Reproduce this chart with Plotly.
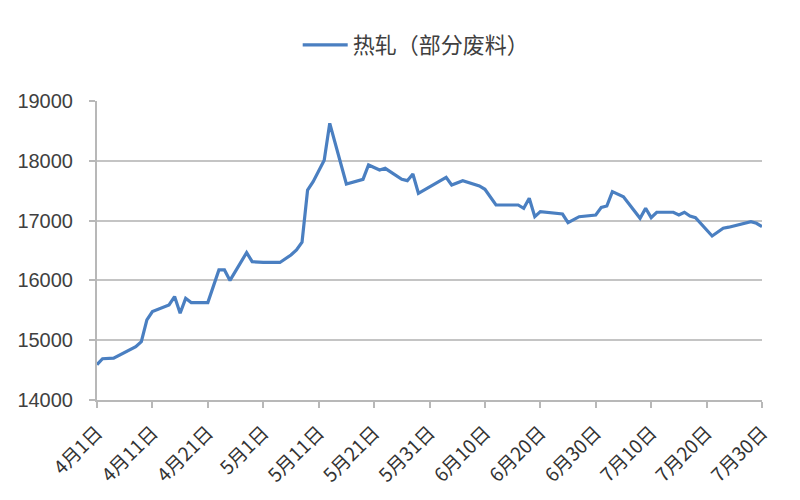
import plotly.graph_objects as go

dates = [
    "2014-04-01", "2014-04-02", "2014-04-04", "2014-04-06", "2014-04-08", "2014-04-09",
    "2014-04-10", "2014-04-11", "2014-04-14", "2014-04-15", "2014-04-16", "2014-04-17",
    "2014-04-18", "2014-04-21", "2014-04-23", "2014-04-24", "2014-04-25", "2014-04-28",
    "2014-04-29", "2014-05-01", "2014-05-04", "2014-05-06", "2014-05-07", "2014-05-08",
    "2014-05-09", "2014-05-10", "2014-05-12", "2014-05-13", "2014-05-15", "2014-05-16",
    "2014-05-19", "2014-05-20", "2014-05-22", "2014-05-23", "2014-05-26", "2014-05-27",
    "2014-05-28", "2014-05-29", "2014-06-03", "2014-06-04", "2014-06-06", "2014-06-09",
    "2014-06-10", "2014-06-12", "2014-06-16", "2014-06-17", "2014-06-18", "2014-06-19",
    "2014-06-20", "2014-06-24", "2014-06-25", "2014-06-27", "2014-06-30", "2014-07-01",
    "2014-07-02", "2014-07-03", "2014-07-05", "2014-07-08", "2014-07-09", "2014-07-10",
    "2014-07-11", "2014-07-14", "2014-07-15", "2014-07-16", "2014-07-17", "2014-07-18",
    "2014-07-21", "2014-07-23", "2014-07-24", "2014-07-28", "2014-07-29", "2014-07-30",
]
prices = [
    14590, 14690, 14700, 14790, 14890, 14975,
    15340, 15480, 15590, 15730, 15450, 15700,
    15630, 15630, 16175, 16175, 16000, 16465,
    16313, 16300, 16300, 16425, 16510, 16640,
    17510, 17650, 18010, 18627, 17930, 17612,
    17690, 17930, 17846, 17874, 17690, 17668,
    17780, 17457, 17724, 17595, 17668, 17580,
    17524, 17261, 17261, 17206, 17373, 17065,
    17150, 17110, 16965, 17065, 17094, 17222,
    17244, 17484, 17400, 17039, 17206, 17050,
    17140, 17140, 17094, 17140, 17077, 17050,
    16743, 16872, 16890, 16982, 16955, 16900,
]
series_name = "热轧（部分废料）"

tick_dates = [
    "2014-04-01", "2014-04-11", "2014-04-21", "2014-05-01", "2014-05-11", "2014-05-21",
    "2014-05-31", "2014-06-10", "2014-06-20", "2014-06-30", "2014-07-10", "2014-07-20",
    "2014-07-30",
]
tick_labels = [
    "4月1日", "4月11日", "4月21日", "5月1日", "5月11日", "5月21日",
    "5月31日", "6月10日", "6月20日", "6月30日", "7月10日", "7月20日", "7月30日",
]
y_ticks = [14000, 15000, 16000, 17000, 18000, 19000]
y_labels = ["14000", "15000", "16000", "17000", "18000", "19000"]

fig = go.Figure()
fig.add_trace(go.Scatter(
    x=dates, y=prices, mode="lines", name=series_name,
    line=dict(color="#4a7fc1", width=3.2),
))

font_family = "Noto Sans CJK SC"
fig.update_layout(
    width=800, height=500,
    margin=dict(l=89, r=46, t=93, b=108, autoexpand=False),
    paper_bgcolor="white", plot_bgcolor="white",
    font=dict(family=font_family, color="#404040", size=14),
    showlegend=True,
    legend=dict(
        orientation="h", x=0.48, xanchor="center", y=1.187, yanchor="middle",
        font=dict(size=22, color="#404040"), itemwidth=45,
    ),
    xaxis=dict(
        type="date", automargin=False,
        range=["2014-04-01", "2014-07-30"],
        tickvals=tick_dates, ticktext=tick_labels,
        tickangle=-45,
        ticks="outside", ticklen=6, tickcolor="#b8b8b8", tickwidth=1.5,
        showline=True, linecolor="#b8b8b8", linewidth=2,
        showgrid=False, zeroline=False,
        ticklabelstandoff=6,
        tickfont=dict(size=19, color="#333333"),
    ),
    yaxis=dict(
        automargin=False,
        range=[14000, 19000],
        tickvals=y_ticks, ticktext=y_labels,
        ticks="outside", ticklen=6, tickcolor="#b8b8b8", tickwidth=1.5,
        showline=True, linecolor="#b8b8b8", linewidth=2,
        showgrid=True, gridcolor="#c4c4c4", gridwidth=1.5,
        zeroline=False,
        ticklabelstandoff=12,
        tickfont=dict(family="Liberation Sans", size=20, color="#404040"),
    ),
)

fig.write_html("out.html")
